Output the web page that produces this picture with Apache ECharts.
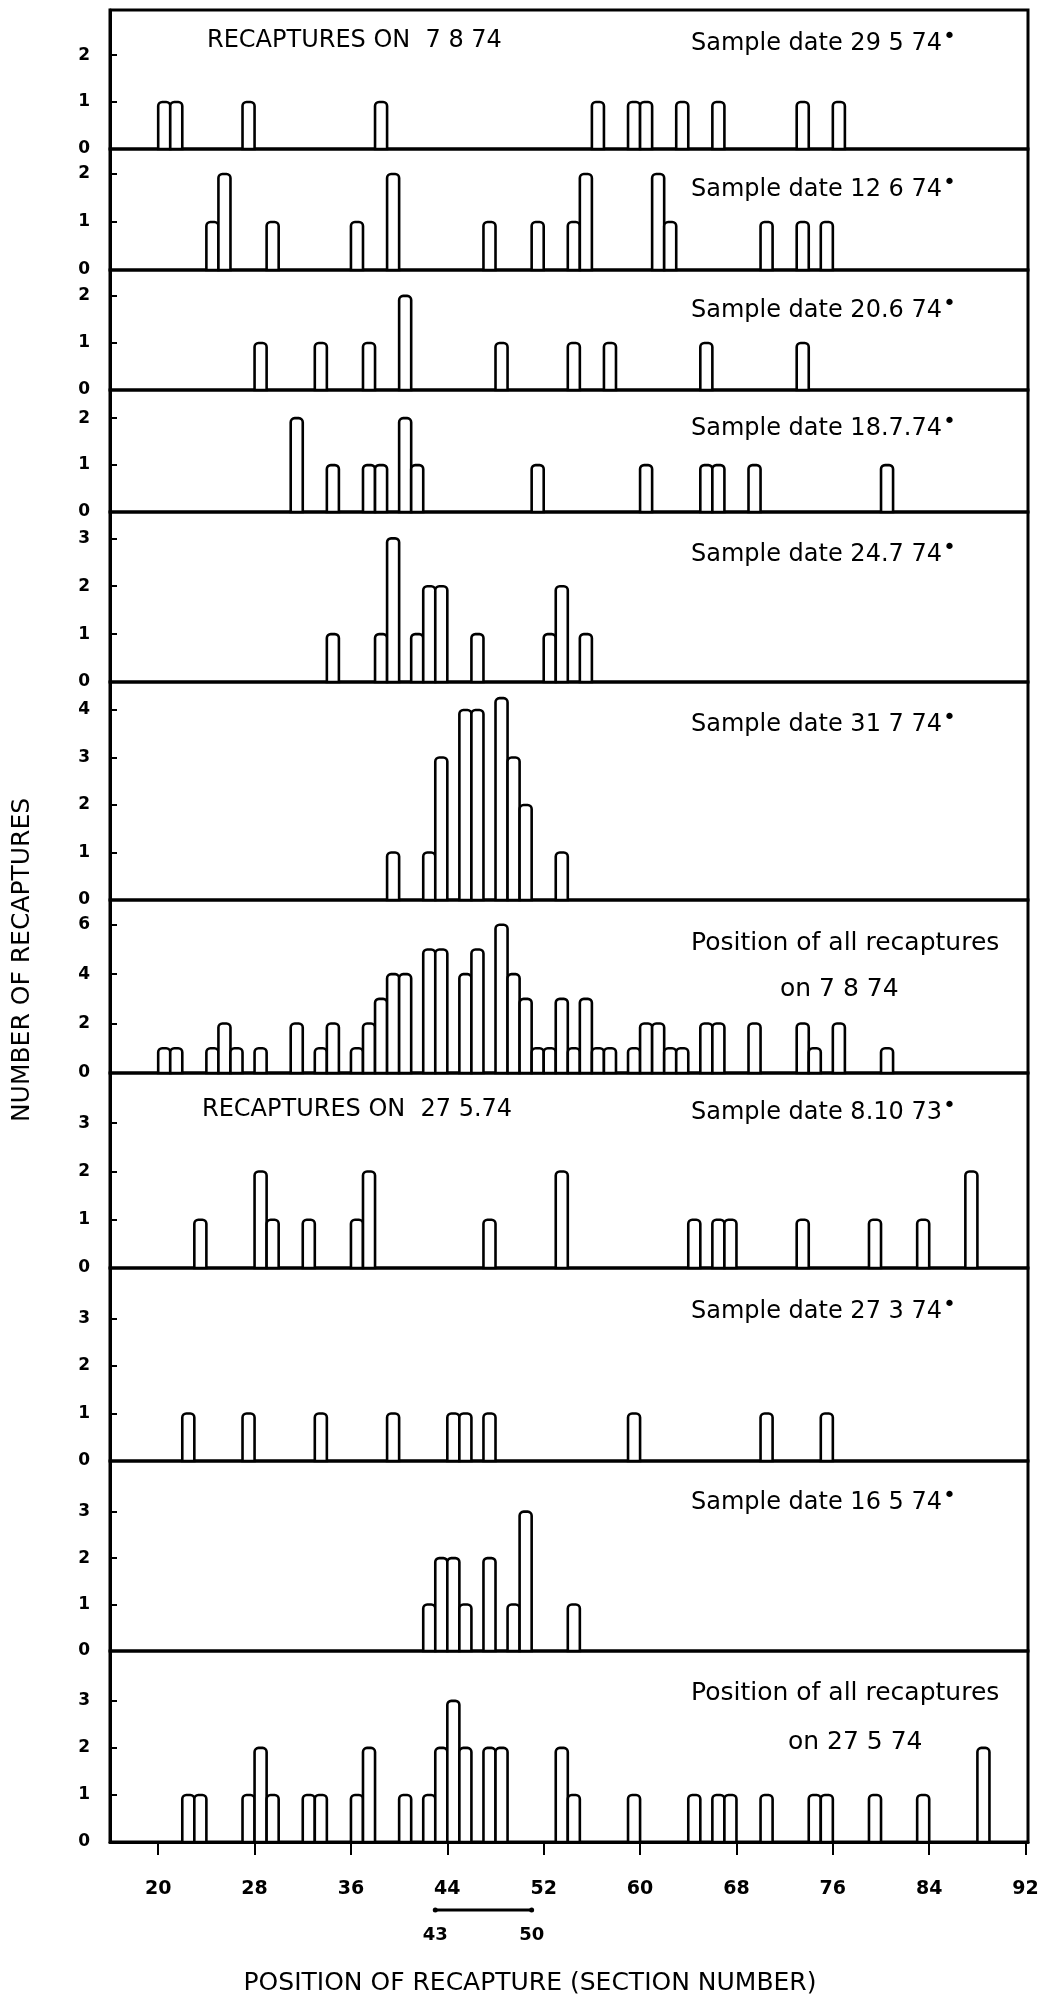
<!DOCTYPE html>
<html>
<head>
<meta charset="utf-8">
<script src="https://cdn.jsdelivr.net/npm/echarts@6/dist/echarts.min.js"></script>
<style>
html,body{margin:0;padding:0;background:#fff;}
#chart{width:1053px;height:1998px;}
</style>
</head>
<body>
<div id="chart"></div>
<script>
// ---------- DATA (section number, number of recaptures) ----------
// Recaptures on 7.8.74
const rec0874_s290574 = [[20,1],[21,1],[27,1],[38,1],[56,1],[59,1],[60,1],[63,1],[66,1],[73,1],[76,1]];
const rec0874_s120674 = [[24,1],[25,2],[29,1],[36,1],[39,2],[47,1],[51,1],[54,1],[55,2],[61,2],[62,1],[70,1],[73,1],[75,1]];
const rec0874_s200674 = [[28,1],[33,1],[37,1],[40,2],[48,1],[54,1],[57,1],[65,1],[73,1]];
const rec0874_s180774 = [[31,2],[34,1],[37,1],[38,1],[40,2],[41,1],[51,1],[60,1],[65,1],[66,1],[69,1],[80,1]];
const rec0874_s240774 = [[34,1],[38,1],[39,3],[41,1],[42,2],[43,2],[46,1],[52,1],[53,2],[55,1]];
const rec0874_s310774 = [[39,1],[42,1],[43,3],[45,4],[46,4],[48,4.25],[49,3],[50,2],[53,1]];
const rec0874_all = [[20,1],[21,1],[24,1],[25,2],[26,1],[28,1],[31,2],[33,1],[34,2],[36,1],[37,2],[38,3],[39,4],[40,4],[42,5],[43,5],[45,4],[46,5],[48,6],[49,4],[50,3],[51,1],[52,1],[53,3],[54,1],[55,3],[56,1],[57,1],[59,1],[60,2],[61,2],[62,1],[63,1],[65,2],[66,2],[69,2],[73,2],[74,1],[76,2],[80,1]];
// Recaptures on 27.5.74
const rec2705_s081073 = [[23,1],[28,2],[29,1],[32,1],[36,1],[37,2],[47,1],[53,2],[64,1],[66,1],[67,1],[73,1],[79,1],[83,1],[87,2]];
const rec2705_s270374 = [[22,1],[27,1],[33,1],[39,1],[44,1],[45,1],[47,1],[59,1],[70,1],[75,1]];
const rec2705_s160574 = [[42,1],[43,2],[44,2],[45,1],[47,2],[49,1],[50,3],[54,1]];
const rec2705_all = [[22,1],[23,1],[27,1],[28,2],[29,1],[32,1],[33,1],[36,1],[37,2],[40,1],[42,1],[43,2],[44,3],[45,2],[47,2],[48,2],[53,2],[54,1],[59,1],[64,1],[66,1],[67,1],[70,1],[74,1],[75,1],[79,1],[83,1],[88,2]];

const panelData = [rec0874_s290574, rec0874_s120674, rec0874_s200674, rec0874_s180774, rec0874_s240774, rec0874_s310774, rec0874_all,
                   rec2705_s081073, rec2705_s270374, rec2705_s160574, rec2705_all];

// tick labels
const xTickValues = [20,28,36,44,52,60,68,76,84,92];
const yTicks = [[0,1,2],[0,1,2],[0,1,2],[0,1,2],[0,1,2,3],[0,1,2,3,4],[0,2,4,6],[0,1,2,3],[0,1,2,3],[0,1,2,3],[0,1,2,3]];
const yMaxes = [2.96, 2.52, 2.55, 2.6, 3.55, 4.59, 7.0, 4.04, 4.06, 4.09, 4.06];
const scaleBarSections = [43, 50];

// texts
const sampleDates = ['29 5 74','12 6 74','20.6 74','18.7.74','24.7 74','31 7 74', null, '8.10 73','27 3 74','16 5 74', null];
const groupTitles = ['RECAPTURES ON  7 8 74', 'RECAPTURES ON  27 5.74'];
const allTitles = ['Position of all recaptures', 'on 7 8 74', 'on 27 5 74'];
const xTitle = 'POSITION OF RECAPTURE (SECTION NUMBER)';
const yTitle = 'NUMBER OF RECAPTURES';

// ---------- LAYOUT ----------
const L = 110, W = 918;
const panelTops = [10,149,270,390,512,682,900,1073,1268,1461,1651];
const panelBottom = 1842;
const textY = [41,187,308,426,552,722,943,1110,1309,1500,1693];
const FONT = '"DejaVu Sans", "Liberation Sans", sans-serif';

const grids = [], xAxes = [], yAxes = [], series = [];
const n = panelData.length;
for (let i = 0; i < n; i++) {
  const top = panelTops[i];
  const bottom = i < n - 1 ? panelTops[i+1] : panelBottom;
  const last = i === n - 1;
  grids.push({left: L, width: W, top: top, height: bottom - top, show: true, borderColor: '#000', borderWidth: 3, backgroundColor: 'transparent', containLabel: false});
  xAxes.push({
    type: 'value', gridIndex: i, min: 16, max: 92.2,
    splitLine: {show: false},
    axisLine: {show: last, onZero: false, lineStyle: {color: '#000', width: 3}},
    axisTick: {show: last, inside: false, length: 13, lineStyle: {color: '#000', width: 2}, customValues: xTickValues},
    axisLabel: {show: last, customValues: xTickValues, margin: 38, color: '#000', fontSize: 19, fontWeight: 'bold', fontFamily: FONT}
  });
  yAxes.push({
    type: 'value', gridIndex: i, min: 0, max: yMaxes[i],
    splitLine: {show: false},
    axisLine: {show: true, lineStyle: {color: '#000', width: 3}},
    axisTick: {show: true, inside: true, length: 7, lineStyle: {color: '#000', width: 2}, customValues: yTicks[i]},
    axisLabel: {customValues: yTicks[i], margin: 20, color: '#000', fontSize: 17, fontWeight: 'bold', fontFamily: FONT}
  });
  series.push({
    type: 'custom', xAxisIndex: i, yAxisIndex: i, data: panelData[i],
    encode: {x: 0, y: 1},
    renderItem: function (params, api) {
      const x = api.value(0), y = api.value(1);
      const p0 = api.coord([x, 0]);
      const p1 = api.coord([x + 1, y]);
      return {
        type: 'rect',
        shape: {x: p0[0], y: p1[1], width: p1[0] - p0[0], height: p0[1] - p1[1], r: [4,4,0,0]},
        style: {fill: '#fff', stroke: '#000', lineWidth: 2.6}
      };
    }
  });
}
// scale bar under the x axis (sections 43 to 50 inclusive)
grids.push({left: L, width: W, top: 1895, height: 30, show: false});
xAxes.push({type: 'value', gridIndex: n, min: 16, max: 92.2, show: false});
yAxes.push({type: 'value', gridIndex: n, min: -1, max: 1, show: false});
series.push({
  type: 'line', xAxisIndex: n, yAxisIndex: n,
  data: [{value: [scaleBarSections[0], 0], name: String(scaleBarSections[0])},
         {value: [scaleBarSections[1] + 1, 0], name: String(scaleBarSections[1])}],
  symbol: 'circle', symbolSize: 5, showSymbol: true,
  itemStyle: {color: '#000'},
  lineStyle: {color: '#000', width: 3},
  label: {show: true, position: 'bottom', distance: 14, formatter: '{b}', color: '#000', fontSize: 18, fontWeight: 'bold', fontFamily: FONT},
  animation: false
});

// ---------- TEXT ANNOTATIONS ----------
const graphics = [];
function sampleText(y, date) {
  return {type: 'text', x: 691, y: y, style: {
    text: '{t|Sample date ' + date + '}{d|•}',
    rich: {t: {fontSize: 24, fontFamily: FONT, fill: '#000', lineHeight: 30, verticalAlign: 'bottom'},
           d: {fontSize: 22, fontFamily: FONT, fill: '#000', lineHeight: 30, verticalAlign: 'top', padding: [0,0,0,1]}},
    verticalAlign: 'middle', textVerticalAlign: 'middle'
  }};
}
function plainText(x, y, str, size) {
  return {type: 'text', x: x, y: y, style: {text: str, font: size + 'px ' + FONT, fill: '#000', textVerticalAlign: 'middle', verticalAlign: 'middle'}};
}
for (let i = 0; i < n; i++) {
  if (sampleDates[i]) graphics.push(sampleText(textY[i], sampleDates[i]));
}
graphics.push(plainText(207, textY[0], groupTitles[0], 24));
graphics.push(plainText(202, textY[7], groupTitles[1], 24));
graphics.push(plainText(691, textY[6], allTitles[0], 25));
graphics.push(plainText(780, 989, allTitles[1], 25));
graphics.push(plainText(691, textY[10], allTitles[0], 25));
graphics.push(plainText(788, 1742, allTitles[2], 25));
graphics.push({type: 'text', x: 530, y: 1983, style: {text: xTitle, font: '25px ' + FONT, fill: '#000', textAlign: 'center', align: 'center', textVerticalAlign: 'middle', verticalAlign: 'middle'}});
graphics.push({type: 'text', x: 22, y: 960, rotation: Math.PI / 2, style: {text: yTitle, font: '25px ' + FONT, fill: '#000', textAlign: 'center', align: 'center', textVerticalAlign: 'middle', verticalAlign: 'middle'}});

const chart = echarts.init(document.getElementById('chart'), null, {renderer: 'canvas'});
chart.setOption({
  animation: false,
  backgroundColor: '#fff',
  grid: grids,
  xAxis: xAxes,
  yAxis: yAxes,
  series: series,
  graphic: graphics
});
</script>
</body>
</html>
